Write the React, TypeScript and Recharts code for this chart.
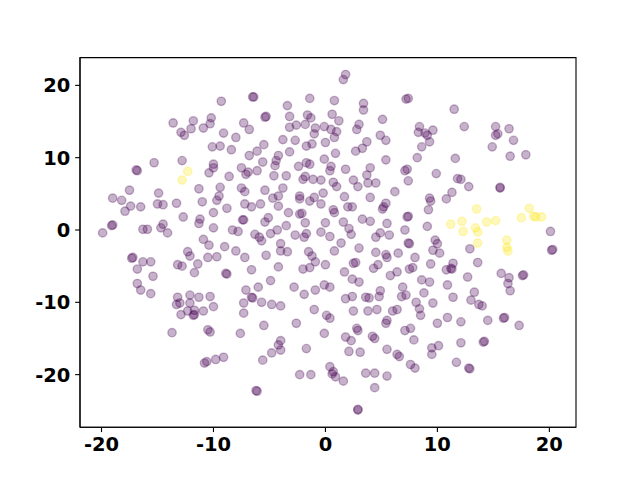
import React from 'react';
import { ScatterChart, Scatter, XAxis, YAxis, ReferenceArea } from 'recharts';

// t-SNE embedding, class 0 (purple) and class 1 (yellow), as [x, y]
const purplePoints: [number, number][] = [
  [-9.3, 17.8], [-13.6, 14.8], [-11.8, 15.1], [-10.2, 15.5], [-10.3, 14.7], [-10.9, 14.1], [-12.0, 14.0], [-12.9, 13.5], [-12.6, 13.1], [-9.1, 13.4], [-8.0, 12.8], [-7.3, 14.8], [-10.1, 11.5], [-9.4, 11.6], [-8.4, 11.1], [-15.3, 9.3], [-12.8, 9.6], [-16.9, 8.3], [-16.8, 8.2], [-10.0, 9.1], [-10.0, 8.6], [-10.4, 7.9], [-7.5, 8.6], [-8.6, 7.4], [-7.1, 7.7], [-6.9, 8.0],
  [1.8, 21.5], [1.6, 20.8], [-6.5, 18.4], [-6.4, 18.4], [-1.4, 18.2], [0.8, 17.9], [-3.4, 17.2], [3.4, 17.5], [3.4, 16.6], [7.2, 18.1], [7.4, 18.2], [-5.4, 15.6], [-5.3, 15.7], [-3.2, 15.7], [-1.6, 15.9], [-1.3, 15.5], [0.6, 16.0], [1.2, 15.1], [5.1, 15.3], [-6.8, 13.9], [-3.2, 14.2], [-2.6, 14.5], [-1.8, 14.6], [-0.9, 14.1], [-0.1, 14.3], [0.5, 13.9], [1.0, 13.6], [0.8, 12.8], [-1.0, 13.3], [3.0, 14.6], [2.8, 13.9], [4.9, 13.1], [5.4, 12.4], [3.7, 12.2], [3.3, 11.3], [2.7, 10.9], [-3.8, 12.5], [-2.7, 12.4], [0.0, 12.1], [-1.2, 11.9], [-1.7, 11.6], [-5.5, 11.8], [-6.1, 10.9], [-6.8, 10.3], [-3.2, 10.8], [-4.2, 10.3], [-4.4, 9.6], [-4.5, 8.9], [-5.6, 9.4], [-6.1, 8.2], [-2.4, 8.8], [-1.7, 9.3], [-1.4, 9.1], [-0.1, 9.8], [0.9, 10.6], [0.5, 8.8], [0.4, 8.2], [1.8, 8.4], [4.0, 8.6], [3.7, 7.6], [5.4, 9.7], [7.1, 8.2], [7.3, 8.4], [-4.6, 7.5], [-3.5, 7.5], [-1.8, 7.4], [-2.0, 7.0], [-1.1, 7.0], [-0.4, 6.9], [0.7, 6.6], [2.5, 6.9], [3.8, 6.5], [4.5, 6.5], [7.4, 6.8],
  [11.5, 16.7], [12.4, 14.3], [8.4, 14.3], [8.3, 13.5], [8.9, 13.4], [9.1, 13.1], [9.6, 13.8], [9.3, 12.2], [8.6, 11.5], [8.2, 10.0], [11.6, 9.9], [15.2, 14.3], [16.4, 14.0], [15.2, 13.1], [15.4, 13.3], [16.8, 12.4], [14.9, 11.5], [16.5, 10.2], [17.9, 10.4], [9.9, 7.8], [11.8, 7.1], [12.1, 7.0],
  [-17.5, 5.5], [-14.9, 5.1], [-19.0, 4.4], [-18.2, 4.1], [-17.4, 3.3], [-16.5, 3.2], [-17.9, 2.6], [-15.0, 3.6], [-14.5, 3.5], [-13.3, 3.7], [-11.3, 5.7], [-9.4, 5.9], [-9.5, 4.7], [-9.7, 4.1], [-11.0, 3.9], [-8.8, 3.0], [-10.0, 2.4], [-12.7, 1.8], [-11.2, 1.5], [-11.3, 0.9], [-7.5, 5.8], [-7.2, 5.3], [-7.2, 3.6], [-7.4, 1.4], [-7.3, 1.4], [-19.1, 0.6], [-19.0, 0.7], [-19.9, -0.4], [-16.3, 0.1], [-15.9, 0.1], [-14.7, 0.3], [-14.5, 0.8], [-14.1, -0.4], [-10.0, 0.3], [-8.3, 0.0], [-7.8, -0.2], [-10.9, -1.3], [-10.4, -2.1], [-9.0, -2.3], [-8.0, -2.9], [-12.3, -3.0], [-12.1, -3.6], [-10.5, -3.8], [-9.7, -3.7], [-7.2, -3.8], [-17.3, -3.9], [-17.2, -3.8], [-16.3, -4.4], [-15.6, -4.4], [-16.8, -5.4], [-15.4, -6.4], [-13.2, -4.8], [-12.8, -5.0], [-11.4, -4.7], [-11.7, -5.9], [-8.9, -6.0], [-8.8, -6.1], [-16.8, -7.4], [-16.5, -8.3], [-15.6, -8.8], [-13.2, -9.3], [-13.3, -10.3], [-13.0, -10.1], [-12.1, -9.0], [-11.3, -9.3], [-10.3, -9.2], [-12.1, -10.1], [-7.1, -8.3], [-7.3, -10.1],
  [-5.4, 5.5], [-3.8, 5.8], [-4.7, 4.4], [-4.2, 4.7], [-5.8, 3.6], [-6.6, 3.2], [-4.2, 3.3], [-3.3, 2.4], [-2.3, 4.7], [-2.3, 4.3], [-1.0, 4.5], [-1.4, 4.0], [-0.2, 5.1], [-0.4, 3.6], [1.0, 6.0], [2.9, 6.0], [6.2, 5.3], [4.0, 4.5], [1.7, 4.6], [2.0, 3.2], [2.4, 3.2], [0.7, 2.8], [0.8, 2.4], [-2.3, 2.2], [-2.1, 2.3], [5.1, 2.9], [5.2, 3.2], [5.4, 3.7], [7.3, 1.8], [7.4, 1.9], [3.3, 1.5], [4.0, 1.2], [5.5, 0.9], [1.6, 1.1], [2.1, 0.2], [2.3, -0.6], [0.0, 1.0], [-1.8, 1.0], [-3.5, 0.6], [-5.1, 1.7], [-5.4, 1.1], [-6.3, -0.6], [-5.9, -1.0], [-5.7, -1.5], [-4.9, -0.5], [-4.3, 0.0], [-2.7, -0.7], [-1.7, -0.5], [-1.9, -1.0], [-0.4, -0.3], [0.4, -0.9], [1.4, -1.8], [0.8, -2.9], [3.0, -2.5], [4.5, -1.0], [4.9, -0.4], [5.7, -0.7], [7.1, 0.0], [7.4, -1.8], [7.5, -1.9], [-4.0, -1.9], [-4.0, -2.9], [-3.4, -3.0], [-5.3, -3.5], [-1.5, -3.0], [-1.2, -3.6], [-0.9, -4.4], [0.0, -4.8], [-1.4, -5.2], [-2.0, -5.4], [-4.2, -5.1], [-6.6, -5.5], [4.5, -3.1], [5.4, -3.4], [5.5, -3.8], [6.5, -3.2], [2.5, -4.6], [2.7, -4.5], [4.7, -4.8], [4.3, -5.3], [6.4, -5.8], [5.8, -6.3], [7.5, -5.4], [7.8, -5.2], [1.7, -5.8], [2.4, -6.8], [3.0, -7.2], [-4.9, -7.0], [-2.8, -7.9], [-0.9, -8.3], [-0.1, -7.6], [0.4, -7.9], [-1.9, -8.9], [-6.0, -7.9], [-6.5, -9.4], [-6.6, -9.3], [-5.7, -10.0], [-4.8, -10.3], [-4.0, -10.5], [1.8, -9.5], [2.4, -9.2], [3.6, -9.3], [3.9, -9.4], [4.9, -8.4], [4.8, -9.2], [6.9, -7.9], [7.2, -9.0], [6.8, -9.2],
  [12.8, 6.0], [15.6, 5.9], [15.6, 5.8], [11.3, 5.2], [10.8, 4.3], [9.3, 4.4], [9.4, 4.0], [9.2, 2.8], [9.1, 0.5], [20.1, -0.2], [20.3, -2.7], [20.2, -2.8], [9.8, -1.4], [10.0, -1.9], [9.6, -2.8], [10.2, -3.2], [12.9, -2.6], [8.0, -3.8], [9.4, -4.7], [11.4, -4.6], [11.3, -5.4], [11.2, -5.3], [10.8, -5.5], [13.6, -4.5], [12.7, -6.5], [8.6, -6.9], [9.3, -7.2], [10.9, -7.6], [15.7, -6.0], [16.4, -6.6], [16.3, -7.4], [16.5, -8.4], [17.6, -6.3], [17.7, -6.2], [13.3, -8.6], [13.0, -9.7], [11.4, -9.3], [8.8, -8.7], [8.1, -10.0], [9.6, -10.1], [13.7, -10.3], [14.0, -10.5],
  [-12.9, -11.7], [-12.3, -11.2], [-11.7, -11.1], [-11.8, -11.8], [-11.7, -11.7], [-10.9, -11.2], [-10.0, -10.6], [-7.3, -11.5], [-13.7, -14.2], [-10.5, -13.8], [-10.3, -14.1], [-7.6, -14.3], [-10.8, -18.4], [-10.6, -18.2], [-9.8, -17.9], [-9.1, -17.6],
  [-1.0, -11.0], [0.1, -11.8], [0.4, -12.2], [2.5, -11.2], [3.8, -11.2], [4.6, -11.0], [6.0, -11.2], [6.4, -11.0], [5.5, -12.5], [5.4, -12.9], [-5.5, -13.2], [-2.6, -12.9], [-0.1, -14.3], [2.8, -13.6], [2.9, -13.9], [1.8, -14.8], [2.3, -15.3], [4.2, -14.7], [4.4, -15.0], [7.1, -13.9], [7.6, -13.6], [-4.0, -15.3], [-4.2, -15.9], [-4.0, -16.6], [-1.7, -16.4], [-4.8, -17.0], [-5.6, -18.0], [2.1, -16.8], [3.1, -16.9], [5.5, -16.5], [6.4, -17.2], [6.6, -17.5], [7.6, -18.6], [8.0, -19.1], [0.4, -18.9], [0.6, -19.9], [0.7, -19.6], [0.9, -20.3], [1.6, -20.9], [-2.3, -20.0], [-1.3, -20.0], [3.6, -19.8], [4.4, -19.8], [5.5, -20.2], [4.4, -21.8], [-6.2, -22.2], [-6.1, -22.3], [2.9, -24.9], [2.9, -24.8],
  [8.4, -10.9], [8.5, -11.8], [10.0, -12.9], [10.9, -12.1], [12.1, -12.7], [14.5, -12.5], [15.9, -12.2], [16.0, -12.1], [17.3, -13.2], [7.9, -15.2], [9.5, -16.3], [10.1, -16.0], [9.5, -17.2], [12.1, -15.6], [14.2, -15.4], [14.1, -15.5], [11.7, -18.3], [12.8, -19.1], [12.9, -19.2],
];

const yellowPoints: [number, number][] = [
  [-12.3, 8.1], [-12.8, 6.9], [13.5, 2.9], [11.2, 0.8], [12.2, 1.2], [12.3, -0.2], [13.4, 0.3], [13.6, -0.3], [14.4, 1.1], [15.2, 1.3], [13.6, -1.8], [16.2, -1.4], [16.2, -2.4], [16.3, -2.9], [17.5, 1.7], [18.2, 3.0], [18.6, 1.9], [18.8, 1.8], [19.3, 1.8],
];

const xTicks = [-20, -10, 0, 10, 20];
const yTicks = [-20, -10, 0, 10, 20];
const xDomain: [number, number] = [-21.92, 22.38];
const yDomain: [number, number] = [-27.27, 23.84];

const PURPLE = '#440154';
const YELLOW = '#fde725';

const toRows = (pts: [number, number][]) => pts.map(([x, y]) => ({ x, y }));

const tickStyle = { fill: '#000', fontFamily: 'DejaVu Sans', fontWeight: 700, fontSize: 19.44 };
const axisStroke = { stroke: '#000', strokeWidth: 1.1 };

const dot = (color: string) => (props: any) => (
  <circle
    cx={props.cx}
    cy={props.cy}
    r={4.17}
    fill={color}
    fillOpacity={0.3}
    stroke={color}
    strokeOpacity={0.3}
    strokeWidth={1.39}
  />
);

export default function App() {
  return (
    <div style={{ position: 'absolute', left: 0, top: 0, width: 640, height: 480, background: '#fff' }}>
      <ScatterChart width={640} height={480} margin={{ top: 57.6, right: 64, bottom: 0, left: 0 }}>
        <XAxis
          type="number"
          dataKey="x"
          domain={xDomain}
          ticks={xTicks}
          allowDataOverflow
          height={52.8}
          tick={tickStyle}
          tickSize={4.86}
          tickMargin={4.86}
          axisLine={axisStroke}
          tickLine={axisStroke}
        />
        <YAxis
          type="number"
          dataKey="y"
          domain={yDomain}
          ticks={yTicks}
          allowDataOverflow
          width={80}
          tick={tickStyle}
          tickSize={4.86}
          tickMargin={4.86}
          axisLine={axisStroke}
          tickLine={axisStroke}
        />
        <Scatter data={toRows(purplePoints)} shape={dot(PURPLE)} isAnimationActive={false} />
        <Scatter data={toRows(yellowPoints)} shape={dot(YELLOW)} isAnimationActive={false} />
        {/* axes frame */}
        <ReferenceArea
          x1={xDomain[0]}
          x2={xDomain[1]}
          y1={yDomain[0]}
          y2={yDomain[1]}
          fill="none"
          fillOpacity={0}
          stroke="#000"
          strokeWidth={1.1}
          strokeOpacity={1}
        />
      </ScatterChart>
    </div>
  );
}
